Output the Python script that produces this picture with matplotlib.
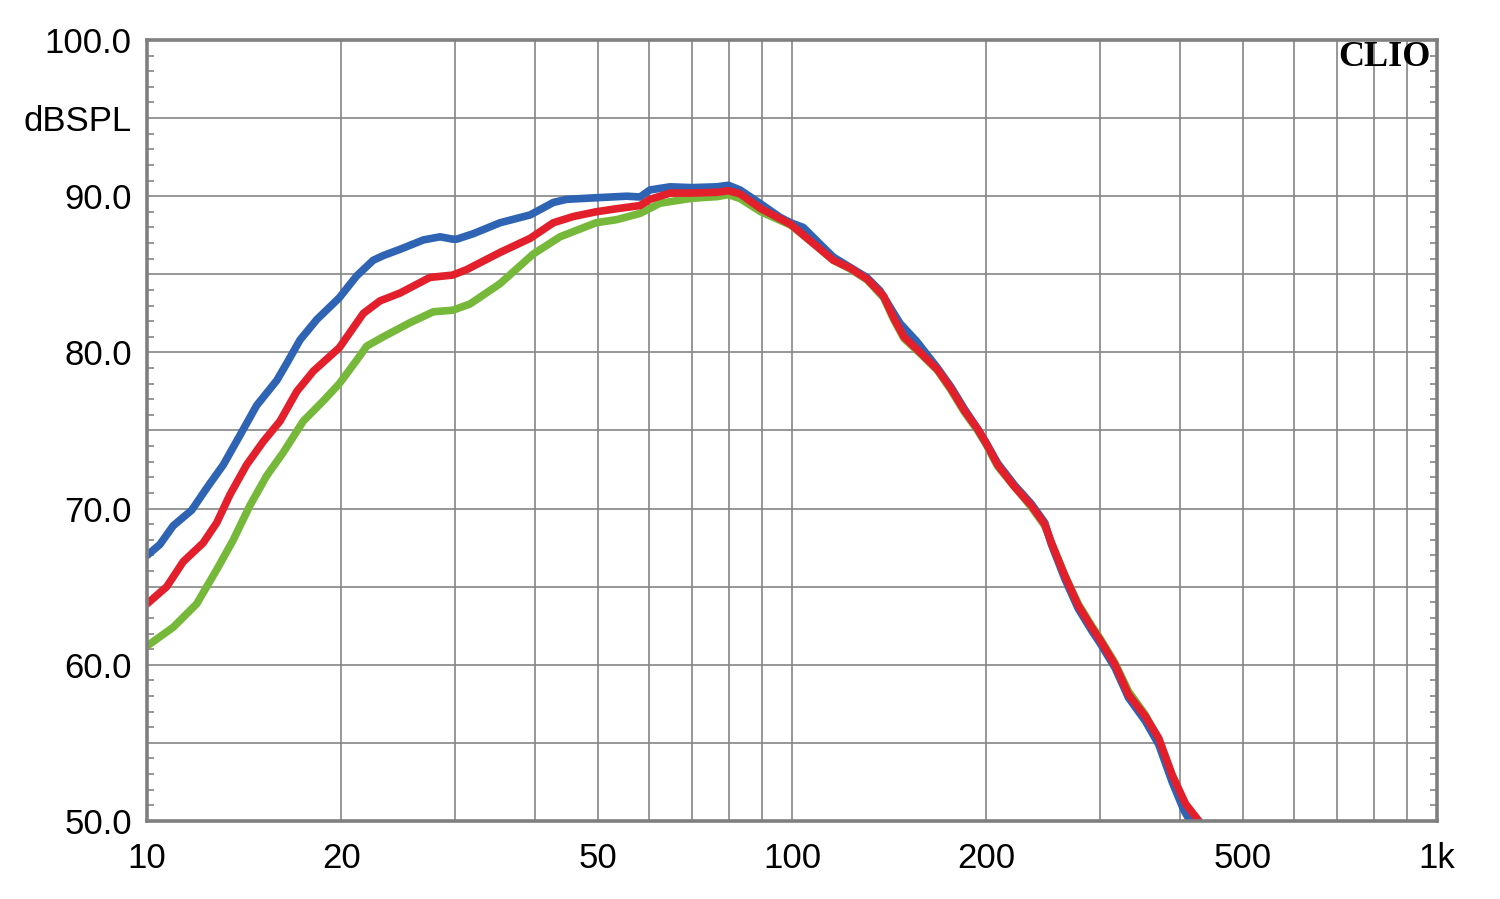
import numpy as np
import matplotlib
matplotlib.use('Agg')
import matplotlib.pyplot as plt
from matplotlib.ticker import FixedLocator, NullFormatter

# frequency response traces (Hz, dBSPL)
blue_f = [10.0, 10.47, 10.98, 11.73, 12.37, 13.13, 13.94, 14.79, 15.89, 16.47, 17.27, 18.33,
          19.87, 21.14, 22.43, 23.25, 24.68, 26.82, 28.47, 29.78, 30.22, 32.06, 35.27, 39.26,
          42.66, 44.75, 49.68, 55.44, 58.13, 60.24, 64.70, 69.94, 76.43, 79.66, 83.06, 89.52,
          95.80, 99.54, 104.1, 109.2, 115.9, 123.0, 130.6, 136.9, 141.9, 147.1, 156.1, 168.1,
          176.3, 184.9, 194.0, 200.0, 208.4, 221.3, 235.0, 246.5, 252.5, 264.9, 277.8, 291.4,
          300.2, 316.9, 332.4, 353.0, 370.3, 388.5, 405.0, 414.0]
blue_db = [67.0, 67.7, 68.9, 69.9, 71.3, 72.8, 74.7, 76.6, 78.2, 79.3, 80.8, 82.1,
           83.5, 84.9, 85.9, 86.2, 86.6, 87.2, 87.4, 87.25, 87.25, 87.6, 88.3, 88.8,
           89.6, 89.8, 89.9, 90.0, 89.95, 90.4, 90.6, 90.55, 90.6, 90.7, 90.4, 89.5,
           88.65, 88.3, 88.0, 87.15, 86.1, 85.45, 84.8, 83.95, 82.9, 81.85, 80.7, 79.0,
           77.8, 76.4, 75.1, 74.2, 72.9, 71.5, 70.3, 69.1, 67.7, 65.5, 63.6, 62.2,
           61.4, 59.8, 57.9, 56.4, 54.9, 52.5, 50.7, 50.0]

red_f = [10.0, 10.73, 11.38, 12.22, 12.83, 13.45, 14.27, 15.15, 16.08, 17.07, 18.11, 19.87,
         21.65, 22.98, 24.68, 27.46, 29.78, 31.31, 35.27, 39.26, 42.66, 45.81, 49.68, 53.50,
         58.13, 60.24, 64.70, 69.94, 76.43, 79.66, 83.06, 89.52, 99.54, 109.2, 115.9, 123.0,
         130.7, 138.7, 143.8, 149.1, 158.3, 168.1, 176.3, 184.9, 194.0, 200.0, 208.4, 221.3,
         235.0, 246.5, 252.5, 264.9, 277.8, 291.4, 300.2, 316.9, 332.4, 353.0, 370.3, 388.5,
         407.5, 427.4]
red_db = [63.9, 65.0, 66.6, 67.8, 69.1, 70.9, 72.8, 74.3, 75.6, 77.5, 78.8, 80.3,
          82.5, 83.3, 83.8, 84.8, 84.95, 85.3, 86.4, 87.3, 88.3, 88.7, 89.0, 89.2,
          89.4, 89.8, 90.2, 90.2, 90.25, 90.35, 90.15, 89.2, 88.2, 86.8, 85.9, 85.4,
          84.7, 83.6, 82.2, 81.0, 79.97, 78.9, 77.7, 76.3, 75.1, 74.2, 72.8, 71.4,
          70.2, 69.0, 67.8, 65.7, 63.8, 62.4, 61.6, 60.0, 58.1, 56.7, 55.3, 52.95,
          51.1, 50.0]

green_f = [10.0, 10.98, 11.94, 12.83, 13.61, 14.44, 15.33, 16.27, 17.47, 18.77, 19.87, 21.14,
           21.91, 23.25, 25.57, 27.79, 29.78, 31.68, 35.27, 39.71, 43.68, 49.68, 53.50, 58.13,
           62.43, 69.94, 76.43, 79.66, 83.06, 89.52, 99.54, 109.2, 115.9, 123.0, 130.7, 138.7,
           143.8, 149.1, 158.3, 168.1, 176.3, 184.9, 194.0, 200.0, 208.4, 221.3, 235.0, 246.5,
           252.5, 264.9, 277.8, 291.4, 300.2, 316.9, 332.4, 353.0, 370.3, 388.5, 407.5, 425.0]
green_db = [61.2, 62.4, 63.9, 66.1, 68.0, 70.2, 72.1, 73.6, 75.6, 76.9, 78.0, 79.5,
            80.4, 81.0, 81.9, 82.6, 82.7, 83.1, 84.4, 86.3, 87.4, 88.3, 88.5, 88.9,
            89.55, 89.87, 89.97, 90.1, 89.85, 89.0, 88.15, 86.8, 85.9, 85.35, 84.65, 83.5,
            82.1, 80.9, 79.9, 78.85, 77.6, 76.2, 75.0, 74.1, 72.7, 71.4, 70.1, 68.9,
            67.8, 65.7, 63.9, 62.5, 61.7, 60.1, 58.3, 56.8, 55.2, 52.9, 51.0, 50.0]

x_major = [10, 20, 50, 100, 200, 500, 1000]
x_labels = ['10', '20', '50', '100', '200', '500', '1k']
x_minor = [30, 40, 60, 70, 80, 90, 300, 400, 600, 700, 800, 900]
y_major = [50, 55, 60, 65, 70, 75, 80, 85, 90, 95, 100]
y_labels = ['50.0', '', '60.0', '', '70.0', '', '80.0', '', '90.0', 'dBSPL', '100.0']

GRID = '#858585'

fig = plt.figure(figsize=(15, 8.99), dpi=100)
ax = fig.add_axes([0.098, 0.0868, 0.86, 0.8687])

kw = dict(lw=5.5, solid_capstyle='round', solid_joinstyle='round', clip_on=True)
ax.plot(green_f, green_db, color='#76b83a', **kw)
ax.plot(blue_f, blue_db, color='#2f64b4', **kw)
ax.plot(red_f, red_db, color='#e31f2b', **kw)

ax.set_xscale('log')
ax.set_xlim(10, 1000)
ax.set_ylim(50, 100)

ax.xaxis.set_major_locator(FixedLocator(x_major))
ax.xaxis.set_minor_locator(FixedLocator(x_minor))
ax.xaxis.set_minor_formatter(NullFormatter())
ax.set_xticklabels(x_labels)
ax.tick_params(axis='x', which='both', length=0, pad=15, labelsize=25)

ax.set_yticks(y_major)
ax.set_yticklabels(y_labels)
ax.yaxis.set_minor_locator(FixedLocator([v for v in range(50, 101) if v % 5]))
ax.tick_params(axis='y', which='major', length=0, pad=11, labelsize=25)
ax.tick_params(axis='y', which='minor', direction='in', length=5, width=1.2,
               color=GRID, left=True, right=True)

for lab in ax.get_xticklabels() + ax.get_yticklabels():
    lab.set_fontfamily('Liberation Sans')

ax.grid(True, which='both', axis='x', color=GRID, lw=1.2)
ax.grid(True, which='major', axis='y', color=GRID, lw=1.2)
ax.set_axisbelow(True)

for sp in ax.spines.values():
    sp.set_color('#7f7f7f')
    sp.set_linewidth(2.6)

ax.text(0.995, 0.978, 'CLIO', transform=ax.transAxes, ha='right', va='center',
        fontsize=26, fontweight='bold', family='Liberation Serif', color='black')

fig.savefig('out.png', dpi=100)
